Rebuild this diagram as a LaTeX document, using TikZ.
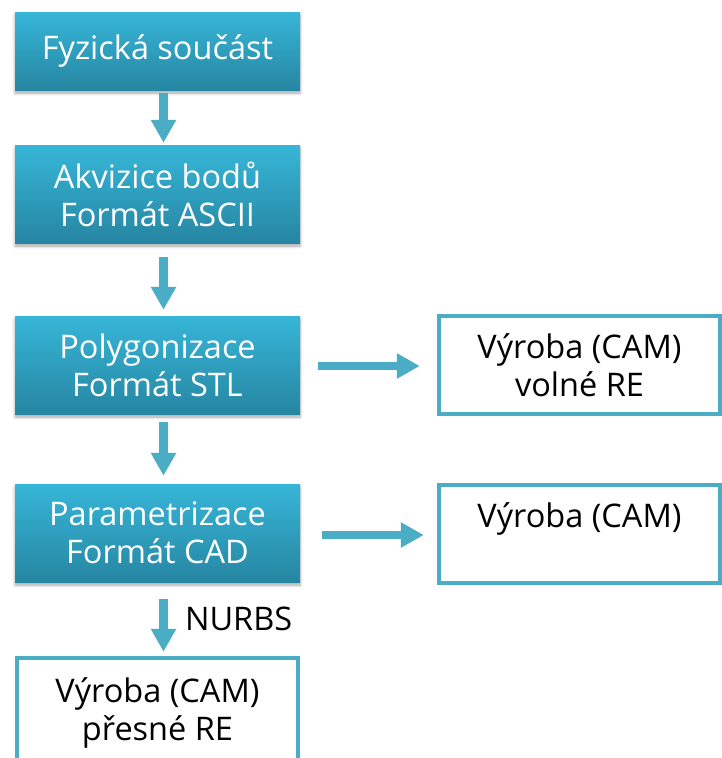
\documentclass[tikz,border=0pt]{standalone}
\usepackage{fontspec}
\setmainfont{Open Sans}
\usetikzlibrary{arrows.meta,shadows.blur}

\definecolor{boxtop}{RGB}{55,182,216}
\definecolor{boxbot}{RGB}{38,134,162}
\definecolor{accent}{RGB}{75,172,198}

\begin{document}
\begin{tikzpicture}[x=1pt,y=-1pt,
    step box/.style={rectangle,minimum width=285pt,minimum height=98pt,
        top color=boxtop,bottom color=boxbot,text=white,align=center,
        font=\fontsize{32.5}{38}\selectfont,
        blur shadow={shadow xshift=0pt,shadow yshift=-3pt,shadow blur radius=3pt,shadow opacity=35}},
    cam box/.style={rectangle,draw=accent,line width=4.5pt,fill=white,
        minimum width=281pt,minimum height=98pt,align=center,
        font=\fontsize{32.5}{38}\selectfont},
    flow/.style={draw=accent,line width=8.5pt,-{Triangle[width=24pt,length=23pt]}}]
	\useasboundingbox (0,0) rectangle (722,758);
	\node[step box,minimum height=78pt] (phys) at (157.5,51) {Fyzická součást\vphantom{y}};
	\node[step box] (acq) at (157.5,194) {Akvizice bodů\\Formát ASCII};
	\node[step box] (poly) at (157.5,365) {Polygonizace\\Formát STL};
	\node[step box] (param) at (157.5,533) {Parametrizace\\Formát CAD};
	\node[cam box] (camfree) at (579.5,365) {Výroba (CAM)\\volné RE};
	\node[cam box] (cam) at (579.5,534) {Výroba (CAM)\\\mbox{}};
	\node[cam box,minimum height=110pt] (camexact) at (157.5,713) {Výroba (CAM)\\přesné RE};
	\draw[flow,shorten <=3pt,shorten >=2pt] ([xshift=6pt]phys.south) -- ([xshift=6pt]acq.north);
	\draw[flow,shorten <=14pt,shorten >=6pt] ([xshift=6pt]acq.south) -- ([xshift=6pt]poly.north);
	\draw[flow,shorten <=8pt,shorten >=8pt] ([xshift=6pt]poly.south) -- ([xshift=6pt]param.north);
	\draw[flow,shorten <=17pt,shorten >=4pt] ([xshift=6pt]param.south) -- ([xshift=6pt]camexact.north)
	    node[midway,right=14pt,font=\fontsize{32.5}{38}\selectfont] (nurbs) {NURBS};
	\draw[flow,shorten <=18pt,shorten >=17pt] ([yshift=-1pt]poly.east) -- ([yshift=-1pt]camfree.west);
	\draw[flow,shorten <=22pt,shorten >=13pt] ([yshift=-2pt]param.east) -- ([yshift=-1pt]cam.west);
\end{tikzpicture}
\end{document}
